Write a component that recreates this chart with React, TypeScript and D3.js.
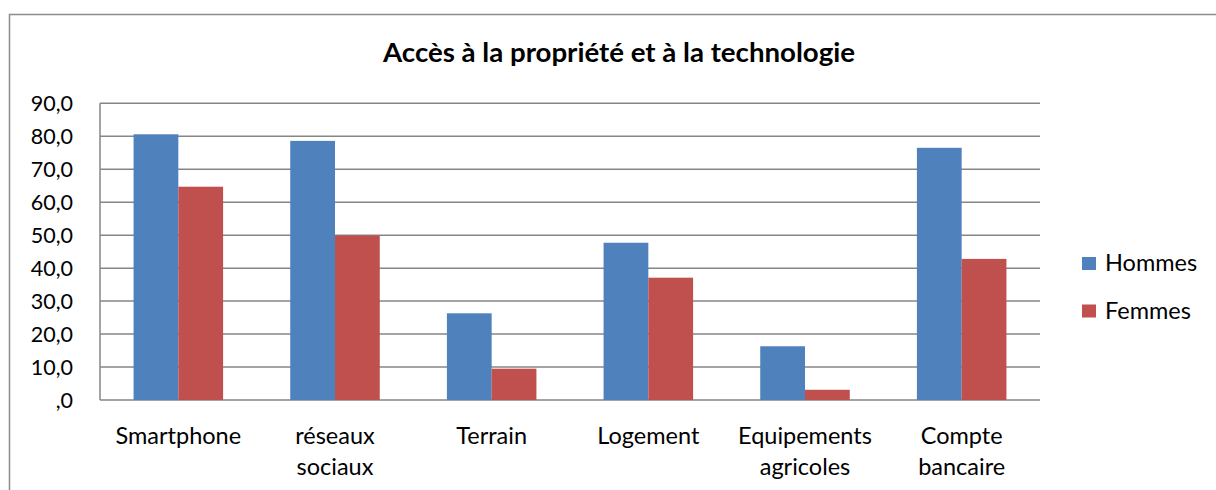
import React from "react";
import * as d3 from "d3";

const categories = [["Smartphone"], ["réseaux", "sociaux"], ["Terrain"], ["Logement"], ["Equipements", "agricoles"], ["Compte", "bancaire"]];
const series = ["Hommes", "Femmes"];
const hommes = [80.6, 78.6, 26.3, 47.7, 16.3, 76.5];
const femmes = [64.7, 49.9, 9.5, 37.1, 3.1, 42.8];
const yTicks = [0, 10, 20, 30, 40, 50, 60, 70, 80, 90];
const yTickLabels = [",0", "10,0", "20,0", "30,0", "40,0", "50,0", "60,0", "70,0", "80,0", "90,0"];
const colors = ["#4F81BD", "#C0504D"];
const title = "Accès à la propriété et à la technologie";

export default function App() {
  const W = 1216, H = 490;
  const left = 100, right = 1040, top = 103.3, bottom = 400;
  const x0 = d3.scaleBand<number>().domain(d3.range(categories.length)).range([left, right]).paddingInner(0).paddingOuter(0);
  const y = d3.scaleLinear().domain([0, 90]).range([bottom, top]);
  const bw = x0.bandwidth() / 3.5;
  const data = [hommes, femmes];
  const font = "Lato, 'Open Sans', sans-serif";
  return (
    <svg width={W} height={H} style={{ position: "absolute", left: 0, top: 0 }} fontFamily={font}>
      <rect x={0} y={0} width={W} height={H} fill="#fff" />
      <rect x={9.5} y={14.5} width={1300} height={600} fill="none" stroke="#8c8c8c" strokeWidth={1.5} />
      <text x={619} y={62} textAnchor="middle" fontSize={26} fontWeight="bold" fill="#000" textLength={472} lengthAdjust="spacingAndGlyphs">{title}</text>
      {yTicks.map((t, i) => (
        <g key={t}>
          <line x1={left} x2={right} y1={y(t)} y2={y(t)} stroke="#868686" strokeWidth={1.5} />
          <text x={73} y={y(t) + 7.5} textAnchor="end" fontSize={21.5} fill="#000">{yTickLabels[i]}</text>
        </g>
      ))}
      <line x1={left} x2={left} y1={top} y2={bottom} stroke="#868686" strokeWidth={1.5} />
      {categories.map((c, i) => (
        <g key={i}>
          {data.map((s, j) => (
            <rect key={j} x={(x0(i) as number) + bw * (0.75 + j)} y={y(s[i])} width={bw} height={bottom - y(s[i])} fill={colors[j]} />
          ))}
          {c.map((line, k) => (
            <text key={k} x={(x0(i) as number) + x0.bandwidth() / 2} y={444 + k * 31} textAnchor="middle" fontSize={23.5} fill="#000">{line}</text>
          ))}
        </g>
      ))}
      {series.map((s, j) => (
        <g key={s}>
          <rect x={1082} y={257 + j * 47.5} width={14} height={13} fill={colors[j]} />
          <text x={1105} y={271 + j * 47.5} fontSize={23.5} fill="#000">{s}</text>
        </g>
      ))}
    </svg>
  );
}
